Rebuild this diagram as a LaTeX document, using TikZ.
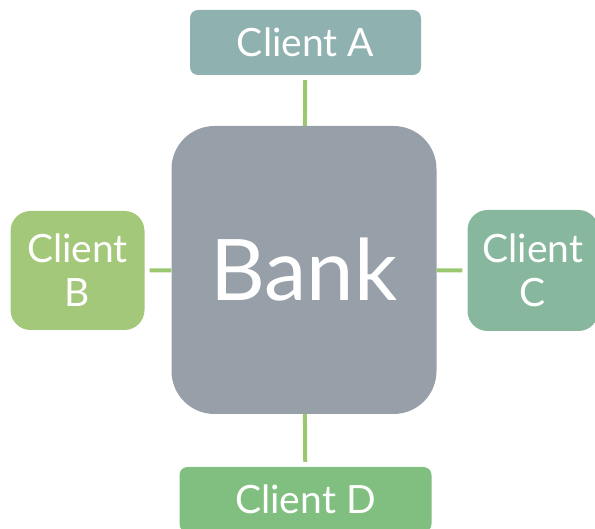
\documentclass[tikz,border=0pt]{standalone}
\usepackage{fontspec}
\setmainfont{Lato}
\usepackage{tikz}

\definecolor{banknode}{HTML}{979FA8}
\definecolor{clienta}{HTML}{8FB1AF}
\definecolor{clientb}{HTML}{A4C879}
\definecolor{clientc}{HTML}{87B89E}
\definecolor{clientd}{HTML}{81BF80}
\definecolor{linkgreen}{HTML}{9BC86F}

\begin{document}
\begin{tikzpicture}[x=1pt,y=-1pt,
  box/.style={text=white, align=center, inner sep=0pt},
  client/.style={box, font=\fontsize{39}{44}\selectfont},
  link/.style={draw=linkgreen, line width=4pt, shorten >=5pt}]
\useasboundingbox (0,0) rectangle (595,529);
\node[box, fill=banknode, rounded corners=43pt, minimum width=265pt, minimum height=288pt, font=\fontsize{85}{90}\selectfont] (bank) at (304,270){Bank};
\node[client, fill=clienta, rounded corners=8pt, minimum width=231pt, minimum height=65pt] (ca) at (305.5,42.5){Client A};
\node[client, fill=clientb, rounded corners=20pt, minimum width=134pt, minimum height=119pt] (cb) at (77.5,270.5){Client\\B};
\node[client, fill=clientc, rounded corners=20pt, minimum width=131pt, minimum height=121pt] (cc) at (533,270.5){Client\\C};
\node[client, fill=clientd, rounded corners=8pt, minimum width=252pt, minimum height=65pt] (cd) at (305.5,499.5){Client D};
\draw[link] (bank) -- (ca);
\draw[link] (bank) -- (cb);
\draw[link] (bank) -- (cc);
\draw[link] (bank) -- (cd);
\end{tikzpicture}
\end{document}
